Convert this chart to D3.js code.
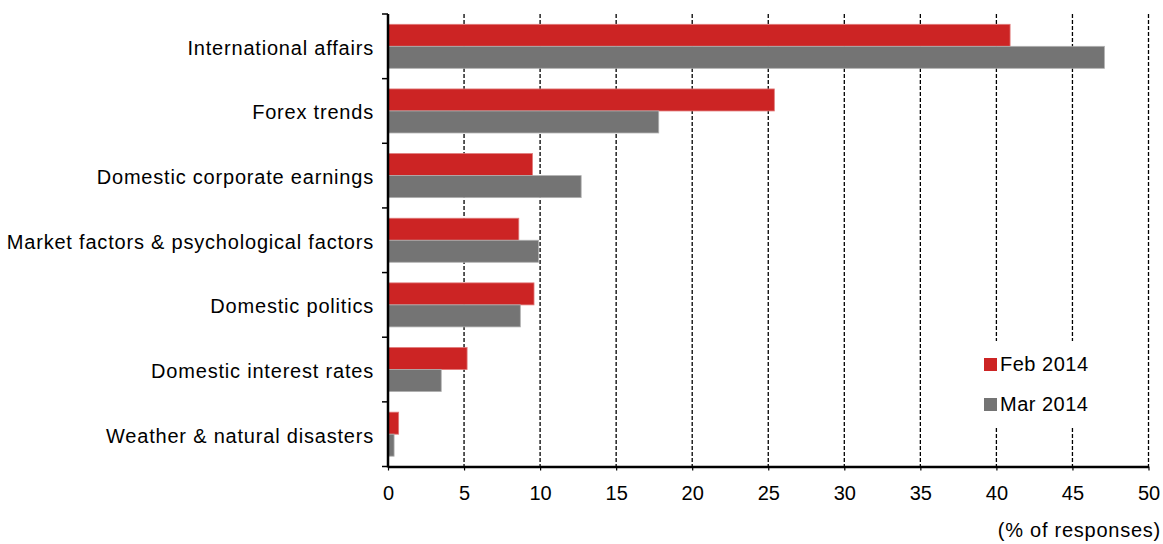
<!DOCTYPE html>
<html>
<head>
<meta charset="utf-8">
<script src="https://cdn.jsdelivr.net/npm/d3@7"></script>
<style>
  html, body { margin: 0; padding: 0; background: #fff; }
  svg { display: block; font-family: "Liberation Sans", Arial, sans-serif; }
</style>
</head>
<body>
<svg id="chart" width="1163" height="544"></svg>
<script>
// Survey: factors expected to move the market
const categories = [
  "International affairs",
  "Forex trends",
  "Domestic corporate earnings",
  "Market factors & psychological factors",
  "Domestic politics",
  "Domestic interest rates",
  "Weather & natural disasters"
];
const seriesNames = ["Feb 2014", "Mar 2014"];
const feb2014 = [40.9, 25.4, 9.5, 8.6, 9.6, 5.2, 0.7];
const mar2014 = [47.1, 17.8, 12.7, 9.9, 8.7, 3.5, 0.4];
const xTicks = [0, 5, 10, 15, 20, 25, 30, 35, 40, 45, 50];
const axisTitle = "(% of responses)";
const colors = ["#cc2424", "#747474"];
const strokes = ["#e07a7a", "#b0b0b0"];

const svg = d3.select("#chart");
const plotLeft = 388, plotRight = 1148.5, plotTop = 14, plotBottom = 466.5;

const x = d3.scaleLinear().domain([0, 50]).range([plotLeft, plotRight]);
const y = d3.scaleBand().domain(categories).range([plotTop, plotBottom]).padding(0);
const sub = d3.scaleBand().domain(seriesNames).range([0, y.bandwidth()])
  .paddingInner(0).paddingOuter(0.468);

// dashed vertical gridlines
svg.append("g")
  .selectAll("line")
  .data(xTicks.filter(d => d > 0))
  .join("line")
  .attr("x1", d => x(d)).attr("x2", d => x(d))
  .attr("y1", plotTop).attr("y2", plotBottom)
  .attr("stroke", "#000")
  .attr("stroke-width", 1.3)
  .attr("stroke-dasharray", "4,2");

// bars
const rows = categories.map((c, i) => ({ c, vals: [feb2014[i], mar2014[i]] }));
const groups = svg.append("g").selectAll("g")
  .data(rows).join("g")
  .attr("transform", d => `translate(0,${y(d.c)})`);
groups.selectAll("rect")
  .data(d => d.vals.map((v, k) => ({ v, k })))
  .join("rect")
  .attr("x", x(0))
  .attr("y", d => sub(seriesNames[d.k]))
  .attr("width", d => x(d.v) - x(0))
  .attr("height", sub.bandwidth())
  .attr("fill", d => colors[d.k])
  .attr("stroke", d => strokes[d.k])
  .attr("stroke-width", 0.8);

// x axis
const xAxis = svg.append("g")
  .attr("transform", `translate(0,${plotBottom})`)
  .call(d3.axisBottom(x).tickValues(xTicks).tickSize(4).tickPadding(15).tickSizeOuter(0));
xAxis.select(".domain").attr("stroke", "#000").attr("stroke-width", 2.5);
xAxis.selectAll(".tick line").attr("stroke", "#000").attr("stroke-width", 1.2);
xAxis.selectAll(".tick text")
  .attr("font-size", 20).attr("fill", "#000")
  .attr("font-family", "Liberation Sans, Arial, sans-serif");

// y axis with ticks at category boundaries
const boundaries = categories.map(c => y(c)).concat([plotBottom]);
svg.append("g").selectAll("line")
  .data(boundaries).join("line")
  .attr("x1", plotLeft - 6).attr("x2", plotLeft)
  .attr("y1", d => d).attr("y2", d => d)
  .attr("stroke", "#000").attr("stroke-width", 1.5);
svg.append("line")
  .attr("x1", plotLeft).attr("x2", plotLeft)
  .attr("y1", plotTop).attr("y2", plotBottom + 1)
  .attr("stroke", "#000").attr("stroke-width", 2.5);

// category labels
svg.append("g").selectAll("text")
  .data(categories).join("text")
  .attr("x", 374)
  .attr("y", d => y(d) + y.bandwidth() / 2 + 1.5)
  .attr("dy", "0.35em")
  .attr("text-anchor", "end")
  .attr("font-size", 20)
  .attr("letter-spacing", 0.8)
  .attr("fill", "#000")
  .text(d => d);

// axis title
svg.append("text")
  .attr("x", 1161).attr("y", 537)
  .attr("text-anchor", "end")
  .attr("font-size", 20)
  .attr("letter-spacing", 0.75)
  .attr("fill", "#000")
  .text(axisTitle);

// legend
const legend = svg.append("g");
legend.append("rect")
  .attr("x", 976).attr("y", 341).attr("width", 122).attr("height", 86)
  .attr("fill", "#fff");
seriesNames.forEach((name, k) => {
  const ly = 358 + k * 40;
  legend.append("rect")
    .attr("x", 984).attr("y", ly).attr("width", 13).attr("height", 13)
    .attr("fill", colors[k]);
  legend.append("text")
    .attr("x", 1000).attr("y", ly + 13)
    .attr("font-size", 20)
    .attr("letter-spacing", 0.5)
    .attr("fill", "#000")
    .text(name);
});
</script>
</body>
</html>
